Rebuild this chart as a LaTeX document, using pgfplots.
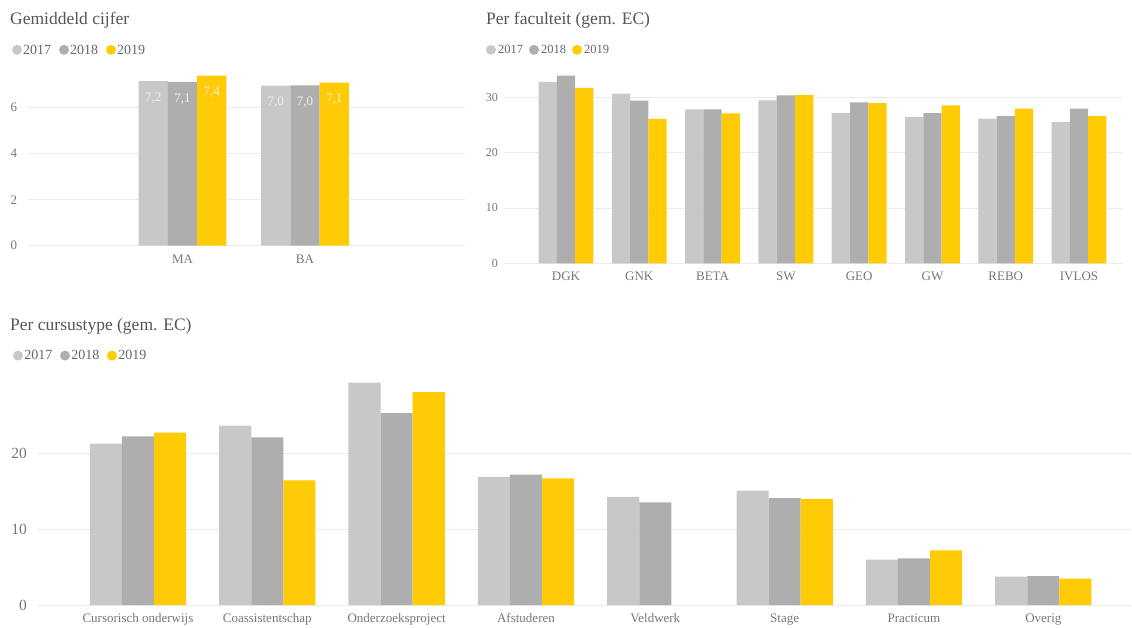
\documentclass[border=0pt]{standalone}
\usepackage{fontspec}
\setmainfont{Liberation Serif}
\usepackage{pgfplots}
\pgfplotsset{compat=1.18}
\definecolor{cA}{HTML}{C8C8C8}
\definecolor{cB}{HTML}{AEAEAE}
\definecolor{cC}{HTML}{FFCB05}
\definecolor{gridc}{HTML}{EBEBEB}
\definecolor{titc}{HTML}{555555}
\definecolor{tickc}{HTML}{777777}
\definecolor{legc}{HTML}{666666}
\pgfplotsset{
  base/.style={
    scale only axis,
    ybar=0pt,
    ymin=0,
    axis line style={draw=none},
    tick style={draw=none},
    major tick length=0pt,
    ymajorgrids,
    grid style={gridc, line width=0.8pt},
    xticklabel style={anchor=base, inner sep=0pt, yshift=-17.5pt, text=tickc, font=\fontsize{13}{15}\selectfont},
    yticklabel style={anchor=east, inner sep=0pt, text=tickc},
    /pgf/number format/assume math mode=true,
    every axis title shift=0pt,
    title style={anchor=base west, inner sep=0pt, text=titc, font=\fontsize{17.5}{20}\selectfont},
    legend columns=3,
    legend style={draw=none, fill=none, inner sep=0pt, outer sep=0pt, anchor=west, text=legc},
  }
}
\begin{document}
\begin{tikzpicture}[x=1pt,y=1pt]
\useasboundingbox (0,0) rectangle (1132,-628);

% ---------- Gemiddeld cijfer ----------
\begin{axis}[base,
  at={(28.3pt,-245.7pt)}, anchor=south west,
  width=436.7pt, height=172.5pt,
  xmin=-1.259, xmax=2.306, ymax=7.5,
  bar width=29.3pt,
  xtick={0,1}, xticklabels={MA,BA},
  ytick={0,2,4,6},
  yticklabel style={xshift=-11pt, font=\fontsize{13}{15}\selectfont},
  title={Gemiddeld cijfer},
  title style={at={(-0.0419,1.2837)}},
  legend style={at={(-0.0373,1.133)}, font=\fontsize{14}{16}\selectfont,
    nodes={inner sep=1pt}, /tikz/every even column/.append style={column sep=7pt}},
  legend image code/.code={\fill[#1] (5pt,0.4pt) circle (5pt);},
  nodes near coords={\pgfmathprintnumber[fixed,precision=1,fixed zerofill,use comma]{\pgfplotspointmeta}},
  every node near coord/.append style={anchor=north, yshift=-11.5pt, inner sep=0pt, text=white!94!black, font=\fontsize{13}{15}\selectfont},
]
\addplot[draw=none, fill=cA] coordinates {(0,7.16) (1,6.96)};
\addplot[draw=none, fill=cB] coordinates {(0,7.12) (1,6.97)};
\addplot[draw=none, fill=cC] coordinates {(0,7.39) (1,7.09)};
\legend{2017,2018,2019}
\end{axis}

% ---------- Per faculteit ----------
\begin{axis}[base,
  at={(505pt,-263.3pt)}, anchor=south west,
  width=618pt, height=193.7pt,
  xmin=-0.832, xmax=7.6, ymax=35,
  bar width=18.3pt,
  xtick={0,...,7}, xticklabels={DGK,GNK,BETA,SW,GEO,GW,REBO,IVLOS},
  ytick={0,10,20,30},
  yticklabel style={xshift=-7pt, font=\fontsize{12}{14}\selectfont},
  title={Per faculteit (gem. EC)},
  title style={at={(-0.0307,1.2354)}},
  legend style={at={(-0.0307,1.101)}, font=\fontsize{12.5}{15}\selectfont,
    nodes={inner sep=2pt}, /tikz/every even column/.append style={column sep=4pt}},
  legend image code/.code={\fill[#1] (5pt,0.2pt) circle (5pt);},
]
\addplot[draw=none, fill=cA] coordinates {(0,32.8) (1,30.65) (2,27.8) (3,29.45) (4,27.2) (5,26.4) (6,26.15) (7,25.5)};
\addplot[draw=none, fill=cB] coordinates {(0,33.9) (1,29.4) (2,27.8) (3,30.35) (4,29.1) (5,27.15) (6,26.65) (7,27.95)};
\addplot[draw=none, fill=cC] coordinates {(0,31.7) (1,26.1) (2,27.1) (3,30.4) (4,28.95) (5,28.55) (6,27.95) (7,26.65)};
\legend{2017,2018,2019}
\end{axis}

% ---------- Per cursustype ----------
\begin{axis}[base,
  at={(38pt,-605pt)}, anchor=south west,
  width=1092pt, height=227.4pt,
  xmin=-0.773, xmax=7.67, ymax=30,
  bar width=32.1pt,
  xtick={0,...,7}, xticklabels={Cursorisch onderwijs,Coassistentschap,Onderzoeksproject,Afstuderen,Veldwerk,Stage,Practicum,Overig},
  ytick={0,10,20},
  yticklabel style={xshift=-11pt, font=\fontsize{15.5}{17}\selectfont},
  title={Per cursustype (gem. EC)},
  title style={at={(-0.0256,1.205)}},
  legend style={at={(-0.0229,1.095)}, font=\fontsize{14}{16}\selectfont,
    nodes={inner sep=1.5pt}, /tikz/every even column/.append style={column sep=6pt}},
  legend image code/.code={\fill[#1] (5pt,0.4pt) circle (5pt);},
]
\addplot[draw=none, fill=cA] coordinates {(0,21.3) (1,23.65) (2,29.35) (3,16.9) (4,14.25) (5,15.1) (6,5.98) (7,3.75)};
\addplot[draw=none, fill=cB] coordinates {(0,22.25) (1,22.1) (2,25.3) (3,17.2) (4,13.55) (5,14.1) (6,6.16) (7,3.8)};
\addplot[draw=none, fill=cC] coordinates {(0,22.75) (1,16.45) (2,28.1) (3,16.7) (5,14.0) (6,7.2) (7,3.47)};
\legend{2017,2018,2019}
\end{axis}
\end{tikzpicture}
\end{document}
